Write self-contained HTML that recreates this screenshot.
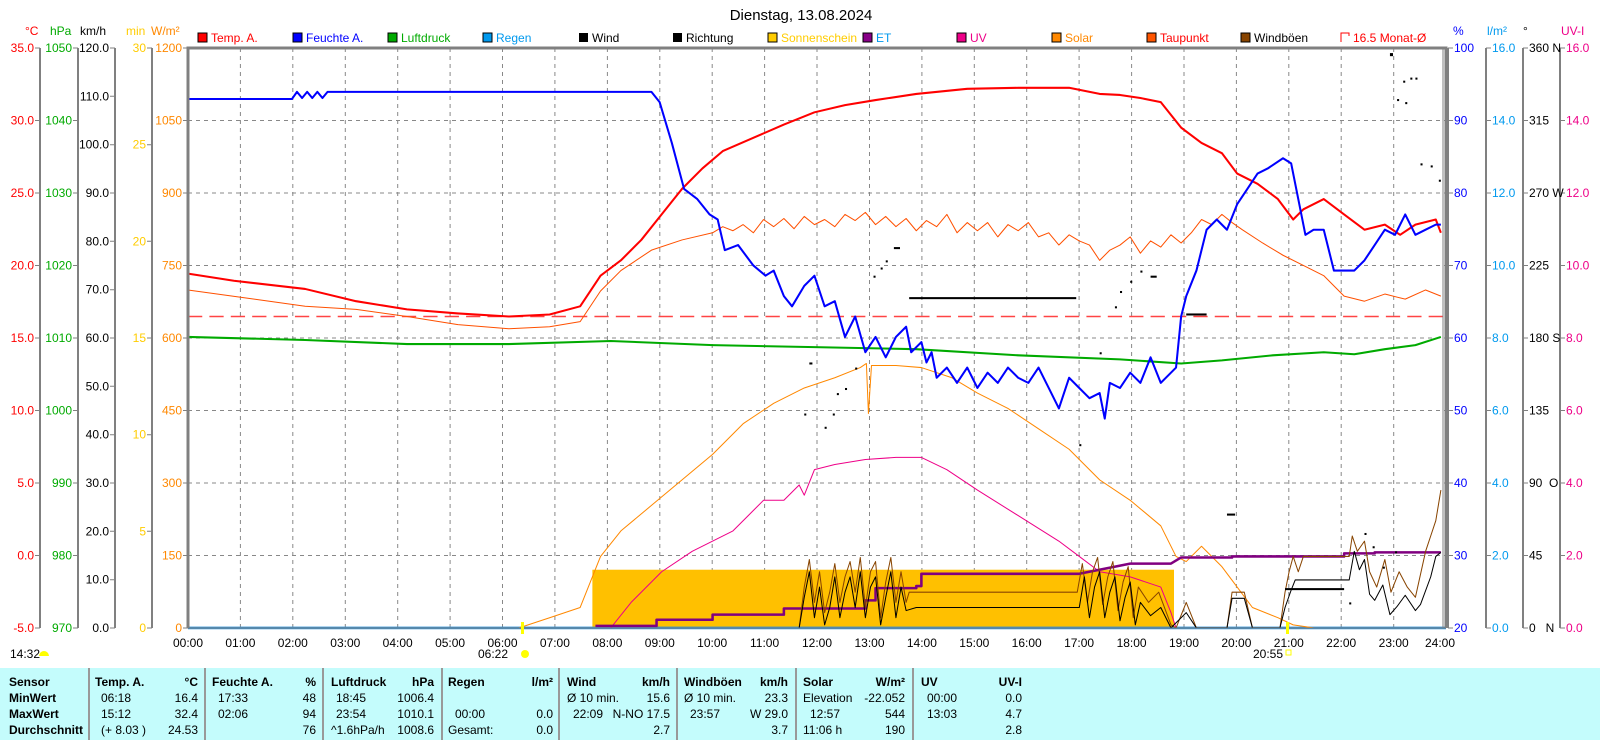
<!DOCTYPE html>
<html><head><meta charset="utf-8"><style>
body{margin:0;background:#fff;width:1600px;height:740px;overflow:hidden}
svg{display:block;font-family:"Liberation Sans",sans-serif;font-size:12px}
</style></head><body>
<svg width="1600" height="740" viewBox="0 0 1600 740" xmlns="http://www.w3.org/2000/svg">
<rect x="0" y="0" width="1600" height="740" fill="#fff"/>
<text x="801" y="20" text-anchor="middle" font-size="15">Dienstag, 13.08.2024</text>
<!-- legend -->
<g font-size="12">
<rect x="198" y="33" width="9" height="9" fill="#f00" stroke="#000"/><text x="211" y="42" fill="#f00">Temp. A.</text>
<rect x="293" y="33" width="9" height="9" fill="#00f" stroke="#000"/><text x="306" y="42" fill="#00f">Feuchte A.</text>
<rect x="388" y="33" width="9" height="9" fill="#0a0" stroke="#000"/><text x="401" y="42" fill="#0a0">Luftdruck</text>
<rect x="483" y="33" width="9" height="9" fill="#09e" stroke="#000"/><text x="496" y="42" fill="#09e">Regen</text>
<rect x="579" y="33" width="9" height="9" fill="#000"/><text x="592" y="42">Wind</text>
<rect x="673" y="33" width="9" height="9" fill="#000"/><text x="686" y="42">Richtung</text>
<rect x="768" y="33" width="9" height="9" fill="#fc0" stroke="#000"/><text x="781" y="42" fill="#fc0">Sonnenschein</text>
<rect x="863" y="33" width="9" height="9" fill="#808" stroke="#000"/><text x="876" y="42" fill="#09e">ET</text>
<rect x="957" y="33" width="9" height="9" fill="#e08" stroke="#000"/><text x="970" y="42" fill="#e08">UV</text>
<rect x="1052" y="33" width="9" height="9" fill="#f80" stroke="#000"/><text x="1065" y="42" fill="#f80">Solar</text>
<rect x="1147" y="33" width="9" height="9" fill="#f50" stroke="#000"/><text x="1160" y="42" fill="#f00">Taupunkt</text>
<rect x="1241" y="33" width="9" height="9" fill="#840" stroke="#000"/><text x="1254" y="42">Windböen</text>
<path d="M1341 42V33h8v3" fill="none" stroke="#f00"/><text x="1353" y="42" fill="#f00">16.5 Monat-Ø</text>
</g>
<!-- units -->
<g font-size="12">
<text x="25" y="35" fill="#f00">°C</text><text x="50" y="35" fill="#0a0">hPa</text><text x="80" y="35">km/h</text>
<text x="126" y="35" fill="#fc0">min</text><text x="151" y="35" fill="#f80">W/m²</text>
<text x="1453" y="35" fill="#00f">%</text><text x="1487" y="35" fill="#09e">l/m²</text><text x="1523" y="35">°</text><text x="1561" y="35" fill="#e08">UV-I</text>
</g>
<!-- grid -->
<g stroke="#888" stroke-dasharray="4,4" stroke-width="1">
<path d="M240.4 48V628M292.8 48V628M345.3 48V628M397.7 48V628M450.1 48V628M502.5 48V628M554.9 48V628M607.4 48V628M659.8 48V628M712.2 48V628M764.6 48V628M817 48V628M869.5 48V628M921.9 48V628M974.3 48V628M1026.7 48V628M1079.1 48V628M1131.6 48V628M1184 48V628M1236.4 48V628M1288.8 48V628M1341.2 48V628M1393.7 48V628"/>
<path d="M188 120.5H1446M188 193H1446M188 265.5H1446M188 338H1446M188 410.5H1446M188 483H1446M188 555.5H1446"/>
</g>
<!-- data -->
<g transform="matrix(1.0186 0 0 1.021 -0.44 0)" fill="none" stroke-linejoin="round">
<rect x="582" y="558" width="571" height="57" fill="#ffc000" stroke="none"/>
<path d="M185 615H1420" stroke="#2a8fd8" stroke-width="2.5"/>
<path d="M185 310H1420" stroke="#f44" stroke-width="1.5" stroke-dasharray="14,7"/>
<path stroke="#f80" stroke-width="1" d="M510 615L540 605L570 595L580 570L590 545L610 520L640 495L670 470L700 445L730 415L760 395L790 380L820 370L845 360L851 356L853 405L856 358L880 358L905 360L935 370L960 385L990 400L1020 420L1050 440L1080 470L1110 490L1140 515L1155 545L1165 550L1180 535L1200 555L1215 575L1230 595L1255 605L1270 612L1290 615"/>
<path stroke="#e08" stroke-width="1" d="M600 615L620 590L650 560L680 540L720 520L735 505L750 490L770 490L785 475L790 485L800 460L820 455L850 450L880 448L905 448L930 460L960 480L1000 505L1040 530L1060 545L1080 560L1110 565L1140 575L1150 600L1155 615"/>
<path stroke="#800080" stroke-width="2.5" d="M585 613H645V607H700V602H770V596H850V588H860V576H900V574H905V562H1060V562L1110 552H1150L1160 546H1210V545H1320V542H1350V541H1415"/>
<path stroke="#840" stroke-width="1" d="M785 615L790 575L795 548L800 590L805 560L810 600L815 580L820 552L825 590L830 565L835 550L840 580L845 546L850 595L855 560L860 550L865 605L870 570L875 546L880 590L885 560L890 590L893 580L1058 580L1063 552L1068 590L1073 560L1078 546L1083 592L1088 565L1093 550L1098 598L1103 570L1108 555L1113 605L1118 575L1128 590L1138 580L1150 612L1155 615L1165 590L1175 615L1205 615L1210 580L1222 580L1230 615L1257 615L1262 580L1266 560L1270 545L1275 560L1280 545L1300 545H1325L1328 525L1333 540L1340 530L1345 560L1352 575L1360 548L1366 580L1374 560L1382 575L1390 585L1400 540L1405 525L1410 510L1415 480"/>
<path stroke="#000" stroke-width="1" d="M785 615L790 585L795 560L800 605L805 575L810 612L815 595L820 565L825 605L830 580L835 565L840 595L845 560L850 605L855 575L860 565L865 612L870 585L875 560L880 605L885 575L890 598L900 595L1060 595L1065 565L1070 605L1075 575L1080 560L1085 605L1090 580L1095 565L1100 608L1105 585L1110 570L1115 612L1120 590L1130 603L1140 595L1150 615L1165 600L1175 615L1205 615L1210 586L1222 586L1230 615L1257 615L1262 595L1268 578L1272 568L1325 568L1330 540L1335 558L1340 548L1345 582L1350 588L1358 573L1365 602L1372 594L1380 583L1390 598L1395 592L1405 565L1410 545L1415 541"/>
<g fill="#000" stroke="none">
<rect x="893" y="291" width="164" height="2"/><rect x="1262" y="576" width="58" height="2"/>
<rect x="1165" y="307" width="20" height="2"/><rect x="1205" y="503" width="8" height="2"/>
<rect x="795" y="355" width="3" height="2"/><rect x="790" y="405" width="2" height="2"/><rect x="810" y="418" width="2" height="2"/><rect x="818" y="405" width="2" height="2"/><rect x="822" y="385" width="2" height="2"/><rect x="830" y="380" width="2" height="2"/><rect x="840" y="360" width="2" height="2"/><rect x="858" y="270" width="2" height="2"/><rect x="865" y="262" width="2" height="2"/><rect x="870" y="255" width="2" height="2"/><rect x="878" y="242" width="6" height="2"/><rect x="1080" y="345" width="2" height="2"/><rect x="1095" y="300" width="2" height="2"/><rect x="1100" y="285" width="2" height="2"/><rect x="1110" y="275" width="2" height="2"/><rect x="1120" y="265" width="2" height="2"/><rect x="1130" y="270" width="6" height="2"/><rect x="1060" y="435" width="2" height="2"/><rect x="1365" y="52" width="3" height="3"/><rect x="1372" y="97" width="2" height="2"/><rect x="1378" y="79" width="2" height="2"/><rect x="1385" y="76" width="2" height="2"/><rect x="1380" y="100" width="2" height="2"/><rect x="1390" y="76" width="2" height="2"/><rect x="1395" y="160" width="2" height="2"/><rect x="1405" y="162" width="2" height="2"/><rect x="1413" y="176" width="2" height="2"/><rect x="1348" y="535" width="2" height="2"/><rect x="1340" y="522" width="2" height="2"/><rect x="1358" y="555" width="2" height="2"/><rect x="1370" y="540" width="2" height="2"/><rect x="1325" y="590" width="2" height="2"/></g>
<path stroke="#0a0" stroke-width="2" d="M185 330L300 333L400 337L500 337L600 334L700 338L800 340L900 342L1000 348L1100 352L1160 356L1200 353L1250 348L1300 345L1330 347L1360 342L1390 338L1415 330"/>
<path stroke="#ff5000" stroke-width="1" d="M185 284L250 293L300 300L350 303L400 310L450 318L500 322L540 320L570 315L590 285L610 265L640 245L670 235L700 228L710 222L720 226L730 220L740 228L750 215L760 222L770 214L780 224L790 212L800 220L810 215L820 222L830 210L840 216L850 208L860 220L870 212L880 222L890 214L900 226L910 216L920 222L930 210L940 228L950 218L960 226L970 218L980 232L990 220L1000 226L1010 218L1020 232L1030 228L1040 240L1050 230L1060 236L1070 240L1080 255L1090 245L1100 240L1110 232L1120 248L1130 236L1140 242L1150 230L1160 238L1170 228L1180 215L1190 220L1200 210L1210 218L1220 225L1240 238L1260 250L1280 260L1300 270L1320 290L1340 295L1360 288L1380 293L1400 284L1415 290"/>
<path stroke="#f00" stroke-width="2" d="M185 268L230 275L300 283L350 295L400 303L450 307L500 310L540 308L570 300L590 270L610 255L630 235L650 210L670 185L690 165L710 148L740 135L770 122L800 110L830 103L860 98L900 92L950 87L1000 86L1050 86L1080 92L1100 93L1120 96L1140 100L1160 125L1180 140L1200 150L1215 170L1235 180L1255 195L1270 215L1280 205L1300 195L1320 210L1340 225L1360 220L1375 230L1390 220L1410 215L1415 228"/>
<path stroke="#00f" stroke-width="2" d="M185 97H287L292 90L297 96L302 90L307 96L312 90L317 96L322 90L327 90H640L648 100L660 140L672 185L685 195L697 210L705 215L712 245L725 240L740 260L752 270L760 265L770 290L778 300L790 280L800 270L810 300L820 295L830 330L840 310L850 345L860 330L870 350L880 330L890 320L895 345L905 335L910 355L915 345L920 370L930 360L940 375L950 360L960 380L970 365L980 375L990 360L1000 370L1010 375L1020 360L1030 380L1040 400L1050 370L1060 380L1070 390L1080 385L1085 410L1090 375L1100 380L1110 365L1120 375L1130 350L1140 375L1150 365L1155 360L1160 310L1165 290L1175 265L1185 225L1195 215L1205 225L1215 200L1225 185L1235 170L1245 165L1260 155L1268 160L1275 195L1282 230L1290 225L1300 225L1310 265L1330 265L1340 255L1350 240L1360 225L1370 230L1380 210L1390 230L1400 225L1410 220L1415 220"/>
</g>
<!-- plot border -->
<path d="M188 628V48H1446V628" fill="none" stroke="#808080" stroke-width="3"/>
<path d="M1443 48V628" stroke="#808080" stroke-width="1"/>
<path d="M188 628H1446" stroke="#808080" stroke-width="1"/>
<!-- left axes -->
<g stroke="#808080" stroke-width="2"><path d="M40 48V628M78 48V628M115 48V628M152 48V628"/></g>
<g stroke="#808080" stroke-width="1">
<path d="M35 48h5M35 120.5h5M35 193h5M35 265.5h5M35 338h5M35 410.5h5M35 483h5M35 555.5h5M35 628h5"/>
<path d="M73 48h5M73 120.5h5M73 193h5M73 265.5h5M73 338h5M73 410.5h5M73 483h5M73 555.5h5M73 628h5"/>
<path d="M110 48h5M110 96.3h5M110 144.7h5M110 193h5M110 241.3h5M110 289.7h5M110 338h5M110 386.3h5M110 434.7h5M110 483h5M110 531.3h5M110 579.7h5M110 628h5"/>
<path d="M147 48h5M147 144.7h5M147 241.3h5M147 338h5M147 434.7h5M147 531.3h5M147 628h5"/>
<path d="M183 48h5M183 120.5h5M183 193h5M183 265.5h5M183 338h5M183 410.5h5M183 483h5M183 555.5h5M183 628h5"/>
</g>
<g text-anchor="end">
<g fill="#f00"><text x="34" y="52">35.0</text><text x="34" y="124.5">30.0</text><text x="34" y="197">25.0</text><text x="34" y="269.5">20.0</text><text x="34" y="342">15.0</text><text x="34" y="414.5">10.0</text><text x="34" y="487">5.0</text><text x="34" y="559.5">0.0</text><text x="34" y="632">-5.0</text></g>
<g fill="#0a0"><text x="72" y="52">1050</text><text x="72" y="124.5">1040</text><text x="72" y="197">1030</text><text x="72" y="269.5">1020</text><text x="72" y="342">1010</text><text x="72" y="414.5">1000</text><text x="72" y="487">990</text><text x="72" y="559.5">980</text><text x="72" y="632">970</text></g>
<g fill="#000"><text x="109" y="52">120.0</text><text x="109" y="100.3">110.0</text><text x="109" y="148.7">100.0</text><text x="109" y="197">90.0</text><text x="109" y="245.3">80.0</text><text x="109" y="293.7">70.0</text><text x="109" y="342">60.0</text><text x="109" y="390.3">50.0</text><text x="109" y="438.7">40.0</text><text x="109" y="487">30.0</text><text x="109" y="535.3">20.0</text><text x="109" y="583.7">10.0</text><text x="109" y="632">0.0</text></g>
<g fill="#fc0"><text x="146" y="52">30</text><text x="146" y="148.7">25</text><text x="146" y="245.3">20</text><text x="146" y="342">15</text><text x="146" y="438.7">10</text><text x="146" y="535.3">5</text><text x="146" y="632">0</text></g>
<g fill="#f80"><text x="182" y="52">1200</text><text x="182" y="124.5">1050</text><text x="182" y="197">900</text><text x="182" y="269.5">750</text><text x="182" y="342">600</text><text x="182" y="414.5">450</text><text x="182" y="487">300</text><text x="182" y="559.5">150</text><text x="182" y="632">0</text></g>
</g>
<!-- right axes -->
<g stroke="#808080" stroke-width="2"><path d="M1448 48V628M1486 48V628M1523 48V628M1560 48V628"/></g>
<g stroke="#808080" stroke-width="1">
<path d="M1448 48h5M1448 120.5h5M1448 193h5M1448 265.5h5M1448 338h5M1448 410.5h5M1448 483h5M1448 555.5h5M1448 628h5"/>
<path d="M1486 48h5M1486 120.5h5M1486 193h5M1486 265.5h5M1486 338h5M1486 410.5h5M1486 483h5M1486 555.5h5M1486 628h5"/>
<path d="M1523 48h5M1523 120.5h5M1523 193h5M1523 265.5h5M1523 338h5M1523 410.5h5M1523 483h5M1523 555.5h5M1523 628h5"/>
<path d="M1560 48h5M1560 120.5h5M1560 193h5M1560 265.5h5M1560 338h5M1560 410.5h5M1560 483h5M1560 555.5h5M1560 628h5"/>
</g>
<g fill="#00f"><text x="1454" y="52">100</text><text x="1454" y="124.5">90</text><text x="1454" y="197">80</text><text x="1454" y="269.5">70</text><text x="1454" y="342">60</text><text x="1454" y="414.5">50</text><text x="1454" y="487">40</text><text x="1454" y="559.5">30</text><text x="1454" y="632">20</text></g>
<g fill="#09e"><text x="1492" y="52">16.0</text><text x="1492" y="124.5">14.0</text><text x="1492" y="197">12.0</text><text x="1492" y="269.5">10.0</text><text x="1492" y="342">8.0</text><text x="1492" y="414.5">6.0</text><text x="1492" y="487">4.0</text><text x="1492" y="559.5">2.0</text><text x="1492" y="632">0.0</text></g>
<g fill="#000"><text x="1529" y="52">360 N</text><text x="1529" y="124.5">315</text><text x="1529" y="197">270 W</text><text x="1529" y="269.5">225</text><text x="1529" y="342">180 S</text><text x="1529" y="414.5">135</text><text x="1529" y="487">90&#160;&#160;O</text><text x="1529" y="559.5">45</text><text x="1529" y="632">0&#160;&#160;&#160;N</text></g>
<g fill="#e08"><text x="1566" y="52">16.0</text><text x="1566" y="124.5">14.0</text><text x="1566" y="197">12.0</text><text x="1566" y="269.5">10.0</text><text x="1566" y="342">8.0</text><text x="1566" y="414.5">6.0</text><text x="1566" y="487">4.0</text><text x="1566" y="559.5">2.0</text><text x="1566" y="632">0.0</text></g>
<!-- time labels -->
<g text-anchor="middle"><text x="188" y="647">00:00</text><text x="240.4" y="647">01:00</text><text x="292.8" y="647">02:00</text><text x="345.3" y="647">03:00</text><text x="397.7" y="647">04:00</text><text x="450.1" y="647">05:00</text><text x="502.5" y="647">06:00</text><text x="554.9" y="647">07:00</text><text x="607.4" y="647">08:00</text><text x="659.8" y="647">09:00</text><text x="712.2" y="647">10:00</text><text x="764.6" y="647">11:00</text><text x="817" y="647">12:00</text><text x="869.5" y="647">13:00</text><text x="921.9" y="647">14:00</text><text x="974.3" y="647">15:00</text><text x="1026.7" y="647">16:00</text><text x="1079.1" y="647">17:00</text><text x="1131.6" y="647">18:00</text><text x="1184" y="647">19:00</text><text x="1236.4" y="647">20:00</text><text x="1288.8" y="647">21:00</text><text x="1341.2" y="647">22:00</text><text x="1393.7" y="647">23:00</text><text x="1440" y="647">24:00</text></g>
<rect x="521" y="622" width="3" height="12" fill="#ff0"/><rect x="1286" y="622" width="3" height="12" fill="#ff0"/>
<text x="478" y="658">06:22</text><circle cx="525" cy="654" r="4" fill="#ff0"/>
<text x="1253" y="658">20:55</text><rect x="1286" y="650" width="5" height="5" fill="none" stroke="#ff0"/>
<text x="10" y="658">14:32</text><path d="M39 656a5 5 0 0 1 10 0z" fill="#ff0"/>
<!-- table -->
<rect x="0" y="668" width="1600" height="72" fill="#c4fcfc"/>
<g stroke="#999" stroke-width="2"><path d="M89 668V740M205 668V740M323 668V740M442 668V740M559 668V740M677 668V740M796 668V740M913 668V740"/></g>
<g font-weight="bold"><text x="9" y="686">Sensor</text><text x="9" y="702">MinWert</text><text x="9" y="718">MaxWert</text><text x="9" y="734">Durchschnitt</text>
<text x="95" y="686">Temp. A.</text><text x="212" y="686">Feuchte A.</text><text x="331" y="686">Luftdruck</text><text x="448" y="686">Regen</text><text x="567" y="686">Wind</text><text x="684" y="686">Windböen</text><text x="803" y="686">Solar</text><text x="921" y="686">UV</text>
<g text-anchor="end"><text x="198" y="686">°C</text><text x="316" y="686">%</text><text x="434" y="686">hPa</text><text x="553" y="686">l/m²</text><text x="670" y="686">km/h</text><text x="788" y="686">km/h</text><text x="905" y="686">W/m²</text><text x="1022" y="686">UV-I</text></g></g>
<text x="101" y="702">06:18</text><text x="101" y="718">15:12</text><text x="101" y="734">(+ 8.03 )</text>
<text x="218" y="702">17:33</text><text x="218" y="718">02:06</text>
<text x="336" y="702">18:45</text><text x="336" y="718">23:54</text><text x="331" y="734">^1.6hPa/h</text>
<text x="455" y="718">00:00</text><text x="448" y="734">Gesamt:</text>
<text x="567" y="702">Ø 10 min.</text><text x="573" y="718">22:09</text>
<text x="684" y="702">Ø 10 min.</text><text x="690" y="718">23:57</text>
<text x="803" y="702">Elevation</text><text x="810" y="718">12:57</text><text x="803" y="734">11:06 h</text>
<text x="927" y="702">00:00</text><text x="927" y="718">13:03</text>
<g text-anchor="end">
<text x="198" y="702">16.4</text><text x="198" y="718">32.4</text><text x="198" y="734">24.53</text>
<text x="316" y="702">48</text><text x="316" y="718">94</text><text x="316" y="734">76</text>
<text x="434" y="702">1006.4</text><text x="434" y="718">1010.1</text><text x="434" y="734">1008.6</text>
<text x="553" y="718">0.0</text><text x="553" y="734">0.0</text>
<text x="670" y="702">15.6</text><text x="670" y="718">N-NO 17.5</text><text x="670" y="734">2.7</text>
<text x="788" y="702">23.3</text><text x="788" y="718">W 29.0</text><text x="788" y="734">3.7</text>
<text x="905" y="702">-22.052</text><text x="905" y="718">544</text><text x="905" y="734">190</text>
<text x="1022" y="702">0.0</text><text x="1022" y="718">4.7</text><text x="1022" y="734">2.8</text>
</g>
</svg>
</body></html>
